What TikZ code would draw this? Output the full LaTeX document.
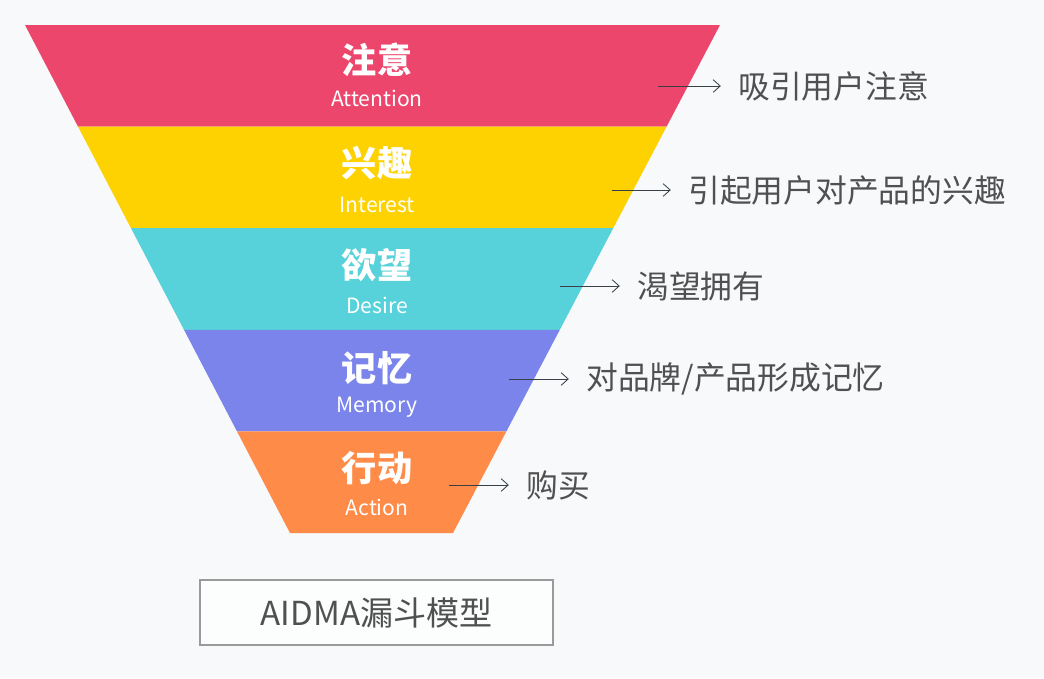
\documentclass[tikz,border=0pt]{standalone}
\usepackage{fontspec}
\setmainfont{Noto Sans CJK SC}
\usetikzlibrary{arrows.meta, calc}
\definecolor{attpink}{HTML}{EC466C}
\definecolor{intyellow}{HTML}{FED200}
\definecolor{descyan}{HTML}{57D2DA}
\definecolor{mempurple}{HTML}{7A84EB}
\definecolor{actorange}{HTML}{FF8B48}
\definecolor{notegray}{HTML}{505050}
\definecolor{arrowgray}{HTML}{3A3F45}
\definecolor{boxgray}{HTML}{9A9A9A}
\definecolor{bggray}{HTML}{F8F9FB}

\begin{document}
\begin{tikzpicture}[x=0.025cm, y=-0.025cm,
    stage/.style={font=\fontsize{25}{25}\selectfont\bfseries, text=white, inner sep=0pt},
    stagesub/.style={font=\fontsize{15}{15}\selectfont, text=white, inner sep=0pt},
    note/.style={font=\fontsize{22.6}{22.6}\selectfont, text=notegray, anchor=west, inner sep=0pt},
    pointer/.style={-{Straight Barb[length=5pt, width=9pt]}, semithick, draw=arrowgray, shorten >=0.43cm}]
      % Background and frame
      \fill[bggray] (0,0) rectangle (1044,678);
      \useasboundingbox (0,0) rectangle (1044,678);

      % Funnel corners
      \coordinate (tl) at (25,25);
      \coordinate (tr) at (720,25);
      \coordinate (bl) at (290,533);
      \coordinate (br) at (453,533);

      % Five bands, top to bottom
      \fill[attpink] (tl) -- (tr) -- ($(tr)!0.2!(br)$) -- ($(tl)!0.2!(bl)$) -- cycle;
      \fill[intyellow] ($(tl)!0.2!(bl)$) -- ($(tr)!0.2!(br)$) -- ($(tr)!0.4!(br)$) -- ($(tl)!0.4!(bl)$) -- cycle;
      \fill[descyan] ($(tl)!0.4!(bl)$) -- ($(tr)!0.4!(br)$) -- ($(tr)!0.6!(br)$) -- ($(tl)!0.6!(bl)$) -- cycle;
      \fill[mempurple] ($(tl)!0.6!(bl)$) -- ($(tr)!0.6!(br)$) -- ($(tr)!0.8!(br)$) -- ($(tl)!0.8!(bl)$) -- cycle;
      \fill[actorange] ($(tl)!0.8!(bl)$) -- ($(tr)!0.8!(br)$) -- (br) -- (bl) -- cycle;

      % Band labels
      \node[stage] (att) at (377,60) {注意};
      \node[stagesub] (attsub) at (377,98) {Attention};
      \node[stage] (int) at (377,163) {兴趣};
      \node[stagesub] (intsub) at (377,205) {Interest};
      \node[stage] (des) at (377,265) {欲望};
      \node[stagesub] (dessub) at (377,305) {Desire};
      \node[stage] (mem) at (377,368) {记忆};
      \node[stagesub] (memsub) at (377,407) {Memory};
      \node[stage] (act) at (377,468) {行动};
      \node[stagesub] (actsub) at (377,507) {Action};

      % Notes on the right
      \node[note] (attnote) at (738,86) {吸引用户注意};
      \node[note] (intnote) at (688,190) {引起用户对产品的兴趣};
      \node[note] (desnote) at (637,286) {渴望拥有};
      \node[note] (memnote) at (586,379) {对品牌/产品形成记忆};
      \node[note] (actnote) at (526,485) {购买};

      % Arrow tails inside the funnel
      \coordinate (atttail) at (658,86);
      \coordinate (inttail) at (612,190);
      \coordinate (destail) at (560,286);
      \coordinate (memtail) at (509,379);
      \coordinate (acttail) at (449,485);

      \draw[pointer] (atttail) -- (attnote.west);
      \draw[pointer] (inttail) -- (intnote.west);
      \draw[pointer] (destail) -- (desnote.west);
      \draw[pointer] (memtail) -- (memnote.west);
      \draw[pointer] (acttail) -- (actnote.west);

      % Caption box
      \node[draw=boxgray, thick, fill=white!60!bggray, minimum width=8.825cm, minimum height=1.625cm,
        font=\fontsize{23.5}{23.5}\selectfont, text=notegray] (title) at (376.5,612.5) {AIDMA漏斗模型};
\end{tikzpicture}
\end{document}
